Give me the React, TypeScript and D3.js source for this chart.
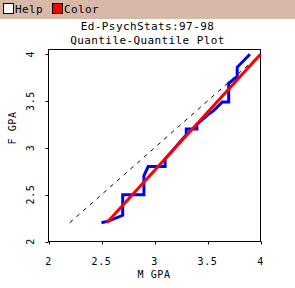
import React, { useEffect, useRef } from 'react'
import { select, scaleLinear, line } from 'd3'

// quantile pairs (M GPA, F GPA)
const mQuant = [2.5, 2.57, 2.7, 2.7, 2.9, 2.9, 2.94, 3.1, 3.1, 3.3, 3.3, 3.4, 3.4, 3.5, 3.56, 3.64, 3.7, 3.7, 3.78, 3.78, 3.9]
const fQuant = [2.2, 2.22, 2.28, 2.5, 2.5, 2.7, 2.8, 2.8, 2.88, 3.14, 3.2, 3.2, 3.25, 3.35, 3.4, 3.49, 3.49, 3.69, 3.76, 3.86, 4.0]
const fitLine = [[2.55, 2.2], [4.0, 4.0]]
const refLine = [[2.2, 2.2], [4.0, 4.0]]
const xTicks = [2, 2.5, 3, 3.5, 4]
const yTicks = [2, 2.5, 3, 3.5, 4]
const titleLines = ['Ed-PsychStats:97-98', 'Quantile-Quantile Plot']

const FONT = '"DejaVu Sans Mono", monospace'

export default function App(): JSX.Element {
  const W = 295
  const H = 288
  const svgRef = useRef<SVGSVGElement | null>(null)

  useEffect(() => {
    const svg = select(svgRef.current)
    svg.selectAll('*').remove()

    const x = scaleLinear().domain([2, 4]).range([48.5, 260.5])
    const y = scaleLinear().domain([2, 4.05]).range([241.5, 49.5])

    // menu bar
    svg.append('rect').attr('x', 0).attr('y', 0).attr('width', W).attr('height', 19).attr('fill', '#d8b8a8')
    svg.append('rect').attr('x', 0).attr('y', 19).attr('width', W).attr('height', H - 19).attr('fill', '#ffffff')
    svg.append('rect').attr('x', 3.5).attr('y', 3.5).attr('width', 10).attr('height', 10).attr('fill', '#ffffff').attr('stroke', '#000')
    svg.append('rect').attr('x', 52.5).attr('y', 3.5).attr('width', 10).attr('height', 10).attr('fill', '#ff0000').attr('stroke', '#000')
    svg.append('text').attr('x', 15).attr('y', 13).text('Help')
      .attr('font-family', FONT).attr('font-size', 11).attr('letter-spacing', 0.4)
    svg.append('text').attr('x', 64).attr('y', 13).text('Color')
      .attr('font-family', FONT).attr('font-size', 11).attr('letter-spacing', 0.4)

    // titles
    titleLines.forEach((t, i) => {
      svg.append('text').attr('x', 147.5).attr('y', 30 + i * 13.5).attr('text-anchor', 'middle')
        .attr('font-family', FONT).attr('font-size', 11).attr('letter-spacing', 0.4).text(t)
    })

    // frame
    svg.append('rect').attr('x', x(2)).attr('y', 49.5).attr('width', x(4) - x(2)).attr('height', y(2) - 49.5)
      .attr('fill', 'none').attr('stroke', '#000').attr('stroke-width', 1)

    const g = svg.append('g').attr('font-family', FONT).attr('font-size', 10)

    g.selectAll('line.xt').data(xTicks).enter().append('line')
      .attr('x1', (d) => Math.round(x(d)) + 0.5).attr('x2', (d) => Math.round(x(d)) + 0.5)
      .attr('y1', y(2)).attr('y2', y(2) + 3).attr('stroke', '#000')
    g.selectAll('text.xt').data(xTicks).enter().append('text')
      .attr('x', (d) => x(d)).attr('y', 265).attr('text-anchor', 'middle').attr('letter-spacing', 0.6)
      .text((d) => String(d))

    g.selectAll('line.yt').data(yTicks).enter().append('line')
      .attr('y1', (d) => Math.round(y(d)) + 0.5).attr('y2', (d) => Math.round(y(d)) + 0.5)
      .attr('x1', x(2) - 3).attr('x2', x(2)).attr('stroke', '#000')
    g.selectAll('text.yt').data(yTicks).enter().append('text')
      .attr('transform', (d) => `translate(34,${y(d)}) rotate(-90)`)
      .attr('text-anchor', 'middle').attr('letter-spacing', 0.6)
      .text((d) => String(d))

    g.append('text').attr('x', 154).attr('y', 277.5).attr('text-anchor', 'middle').attr('letter-spacing', 0.6).text('M GPA')
    g.append('text').attr('transform', 'translate(16,128) rotate(-90)').attr('text-anchor', 'middle')
      .attr('letter-spacing', 0.6).text('F GPA')

    const lineFn = line<number[]>()
      .x((d) => x(d[0]))
      .y((d) => y(d[1]))

    svg.append('path').datum(refLine).attr('d', lineFn).attr('fill', 'none')
      .attr('stroke', '#000').attr('stroke-width', 1).attr('stroke-dasharray', '4,5')

    const pairs = mQuant.map((m, i) => [m, fQuant[i]])
    svg.append('path').datum(pairs).attr('d', lineFn).attr('fill', 'none')
      .attr('stroke', '#0000ff').attr('stroke-width', 3).attr('stroke-linejoin', 'miter')

    svg.append('path').datum(fitLine).attr('d', lineFn).attr('fill', 'none')
      .attr('stroke', '#ff0000').attr('stroke-width', 3)
  }, [])

  return (
    <svg
      ref={svgRef}
      width={W}
      height={H}
      style={{ position: 'absolute', left: 0, top: 0 }}
      xmlns="http://www.w3.org/2000/svg"
    />
  )
}
